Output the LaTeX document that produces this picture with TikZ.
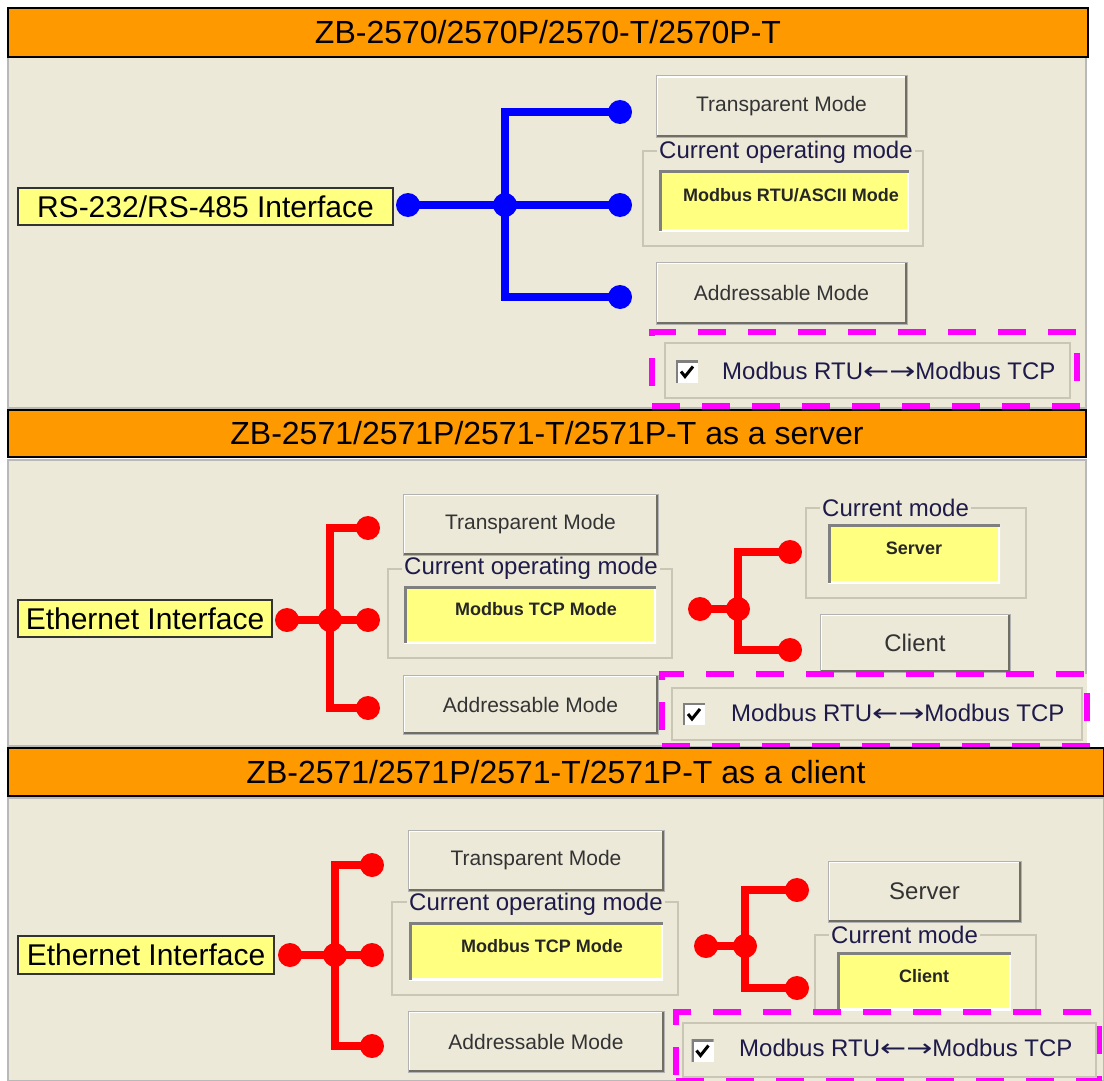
\documentclass[tikz,border=0pt]{standalone}
\usepackage{graphicx}
\usepackage{fontspec}
\setmainfont{Liberation Sans}
\newfontfamily\mbarrowfont{DejaVu Sans}
\newcommand{\mbArrows}{{\mbarrowfont\scalebox{1.3}[1]{←}\scalebox{1.3}[1]{→}}}
\definecolor{bg}{HTML}{ECE9D8}
\definecolor{hdrorange}{HTML}{FF9900}
\definecolor{fieldyellow}{HTML}{FFFF80}
\definecolor{btndark}{HTML}{716F64}
\definecolor{grpline}{HTML}{C9C6B6}
\definecolor{btntext}{HTML}{333333}
\definecolor{navytext}{HTML}{1E1A4A}
\definecolor{magentadash}{HTML}{FF00FF}
\begin{document}
\begin{tikzpicture}[x=1pt,y=-1pt,
 hdr/.style={draw=black, line width=2pt, fill=hdrorange, inner sep=0pt, text=black, font=\fontsize{32}{36}\selectfont},
 panel/.style={draw=gray!55, line width=1.5pt, fill=bg, inner sep=0pt},
 iface/.style={draw=black!80, line width=2pt, fill=fieldyellow, inner sep=0pt, text=black, font=\fontsize{30}{34}\selectfont},
 btn/.style={draw=gray!60, line width=1pt, fill=bg, inner sep=0pt, text=btntext, font=\fontsize{21}{25}\selectfont,
   path picture={\draw[white,line width=4pt] (path picture bounding box.south west) |- (path picture bounding box.north east);
                 \draw[btndark,line width=5pt] (path picture bounding box.south west) -| (path picture bounding box.north east);}},
 bigbtn/.style={btn, font=\fontsize{24}{28}\selectfont},
 field/.style={fill=fieldyellow, inner sep=0pt, text=black!85, font=\bfseries\fontsize{18}{22}\selectfont,
   path picture={\draw[white,line width=4pt] (path picture bounding box.south west) -| (path picture bounding box.north east);
                 \draw[gray,line width=5pt] (path picture bounding box.south west) |- (path picture bounding box.north east);}},
 grp/.style={draw=grpline, line width=2pt, inner sep=0pt},
 grplabel/.style={fill=bg, inner xsep=2pt, inner ysep=0pt, anchor=west, text=navytext, font=\fontsize{24}{28}\selectfont},
 hl/.style={draw=magentadash, line width=6pt, dash pattern=on 28pt off 22pt, fill=bg, inner sep=0pt},
 cbg/.style={draw=grpline, line width=2pt, inner sep=0pt},
 chk/.style={fill=white, inner sep=0pt, minimum size=22pt,
   path picture={\draw[gray,line width=4pt] (path picture bounding box.south west) |- (path picture bounding box.north east);}},
 tick/.style={draw=black, line width=3pt},
 cbtext/.style={anchor=west, inner sep=0pt, text=navytext, font=\fontsize{24}{28}\selectfont},
 dotb/.style={circle, fill=blue, inner sep=0pt, minimum size=24pt},
 dotr/.style={circle, fill=red, inner sep=0pt, minimum size=24pt},
 wireb/.style={draw=blue, line width=8pt},
 wirer/.style={draw=red, line width=8pt},
]
\useasboundingbox[fill=white] (0,0) rectangle (1104,1081);

%% ---------------- Panel 1 ----------------
\node[panel, minimum width=1078pt, minimum height=351pt] (p1) at (547,232.5) {};
\node[hdr, minimum width=1080pt, minimum height=49pt] (h1) at (548,32.5) {ZB-2570/2570P/2570-T/2570P-T};
\node[iface, minimum width=375pt, minimum height=37pt] (rs) at (205.5,206.5) {RS-232/RS-485 Interface};
\node[dotb] (L1) at (408,205) {};
\node[dotb] (J1) at (505,205) {};
\node[dotb] (T1) at (620,112) {};
\node[dotb] (M1) at (620,205) {};
\node[dotb] (B1) at (620,297) {};
\draw[wireb] (L1.center) -- (M1.center);
\draw[wireb] (T1.center) -| (J1.center) |- (B1.center);
\node[btn, minimum width=251pt, minimum height=61pt] (tm1) at (781.5,106.5) {Transparent Mode};
\node[grp, minimum width=280pt, minimum height=95pt] (g1) at (783,198.5) {};
\node[grplabel] (g1l) at (657,152) {Current operating mode};
\node[field, minimum width=250pt, minimum height=61pt] (f1) at (784,200.5) {\raisebox{5pt}[\height][\depth]{\hspace*{14pt}Modbus RTU/ASCII Mode}};
\node[btn, minimum width=251pt, minimum height=62pt] (am1) at (781.5,293) {Addressable Mode};
\node[hl, minimum width=425pt, minimum height=74pt] (d1) at (864.5,369) {};
\node[cbg, minimum width=405pt, minimum height=55pt] (cg1) at (867.5,370.5) {};
\node[chk] (c1) at (687,371.5) {};
\draw[tick] ([shift={(-6,0)}]c1.center) -- ([shift={(-2,5)}]c1.center) -- ([shift={(6,-5)}]c1.center);
\node[cbtext] (ct1) at (722,371) {Modbus RTU\mbArrows Modbus TCP};

%% ---------------- Panel 2 ----------------
\node[panel, minimum width=1078pt, minimum height=286pt] (p2) at (547,603) {};
\node[hdr, minimum width=1078pt, minimum height=47pt] (h2) at (547,433.5) {ZB-2571/2571P/2571-T/2571P-T as a server};
\node[iface, minimum width=254pt, minimum height=37pt] (e2) at (145,618.5) {Ethernet Interface};
\node[dotr] (L2) at (287,620) {};
\node[dotr] (J2) at (330,620) {};
\node[dotr] (T2) at (368,528) {};
\node[dotr] (M2) at (368,620) {};
\node[dotr] (B2) at (368,708) {};
\draw[wirer] (L2.center) -- (M2.center);
\draw[wirer] (T2.center) -| (J2.center) |- (B2.center);
\node[btn, minimum width=255pt, minimum height=61pt] (tm2) at (530.5,524.5) {Transparent Mode};
\node[grp, minimum width=284pt, minimum height=89pt] (g2) at (530,613) {};
\node[grplabel] (g2l) at (402,568) {Current operating mode};
\node[field, minimum width=252pt, minimum height=57pt] (f2) at (530,614.5) {\raisebox{5pt}[\height][\depth]{\hspace*{12pt}Modbus TCP Mode}};
\node[btn, minimum width=255pt, minimum height=59pt] (am2) at (530.5,704.5) {Addressable Mode};
\node[dotr] (L2b) at (700,609) {};
\node[dotr] (J2b) at (738,609) {};
\node[dotr] (T2b) at (790,552) {};
\node[dotr] (B2b) at (790,650) {};
\draw[wirer] (L2b.center) -- (J2b.center);
\draw[wirer] (T2b.center) -| (J2b.center) |- (B2b.center);
\node[grp, minimum width=220pt, minimum height=90pt] (cm2) at (916,553) {};
\node[grplabel] (cm2l) at (820,508) {Current mode};
\node[field, minimum width=172pt, minimum height=59pt] (sv2) at (914,553.5) {\raisebox{5pt}[\height][\depth]{Server}};
\node[bigbtn, minimum width=190pt, minimum height=58pt] (cl2) at (915,643) {Client};
\node[hl, minimum width=425pt, minimum height=72pt] (d2) at (874.5,710) {};
\node[cbg, minimum width=410pt, minimum height=52pt] (cg2) at (877,714) {};
\node[chk] (c2) at (694,714) {};
\draw[tick] ([shift={(-6,0)}]c2.center) -- ([shift={(-2,5)}]c2.center) -- ([shift={(6,-5)}]c2.center);
\node[cbtext] (ct2) at (731,713) {Modbus RTU\mbArrows Modbus TCP};

%% ---------------- Panel 3 ----------------
\node[panel, minimum width=1096pt, minimum height=283pt] (p3) at (556,939.5) {};
\node[hdr, minimum width=1096pt, minimum height=48pt] (h3) at (556,772) {ZB-2571/2571P/2571-T/2571P-T as a client};
\node[iface, minimum width=256pt, minimum height=38pt] (e3) at (146,955) {Ethernet Interface};
\node[dotr] (L3) at (290,955) {};
\node[dotr] (J3) at (335,955) {};
\node[dotr] (T3) at (372,865) {};
\node[dotr] (M3) at (372,955) {};
\node[dotr] (B3) at (372,1046) {};
\draw[wirer] (L3.center) -- (M3.center);
\draw[wirer] (T3.center) -| (J3.center) |- (B3.center);
\node[btn, minimum width=256pt, minimum height=61pt] (tm3) at (536,860.5) {Transparent Mode};
\node[grp, minimum width=286pt, minimum height=93pt] (g3) at (535,948.5) {};
\node[grplabel] (g3l) at (407,904) {Current operating mode};
\node[field, minimum width=254pt, minimum height=58pt] (f3) at (536,951) {\raisebox{5pt}[\height][\depth]{\hspace*{12pt}Modbus TCP Mode}};
\node[btn, minimum width=256pt, minimum height=61pt] (am3) at (536,1041.5) {Addressable Mode};
\node[dotr] (L3b) at (706,946) {};
\node[dotr] (J3b) at (745,946) {};
\node[dotr] (T3b) at (797,890) {};
\node[dotr] (B3b) at (797,988) {};
\draw[wirer] (L3b.center) -- (J3b.center);
\draw[wirer] (T3b.center) -| (J3b.center) |- (B3b.center);
\node[bigbtn, minimum width=193pt, minimum height=61pt] (sv3) at (924.5,891.5) {Server};
\node[grp, minimum width=221pt, minimum height=95pt] (cm3) at (925.5,982.5) {};
\node[grplabel] (cm3l) at (829,935) {Current mode};
\node[field, minimum width=174pt, minimum height=58pt] (cl3) at (924,981) {\raisebox{5pt}[\height][\depth]{Client}};
\node[hl, minimum width=423pt, minimum height=69pt] (d3) at (887.5,1046.5) {};
\node[cbg, minimum width=413pt, minimum height=54pt] (cg3) at (889.5,1050) {};
\node[chk] (c3) at (702.5,1050.5) {};
\draw[tick] ([shift={(-6,0)}]c3.center) -- ([shift={(-2,5)}]c3.center) -- ([shift={(6,-5)}]c3.center);
\node[cbtext] (ct3) at (739,1048) {Modbus RTU\mbArrows Modbus TCP};
\end{tikzpicture}
\end{document}
